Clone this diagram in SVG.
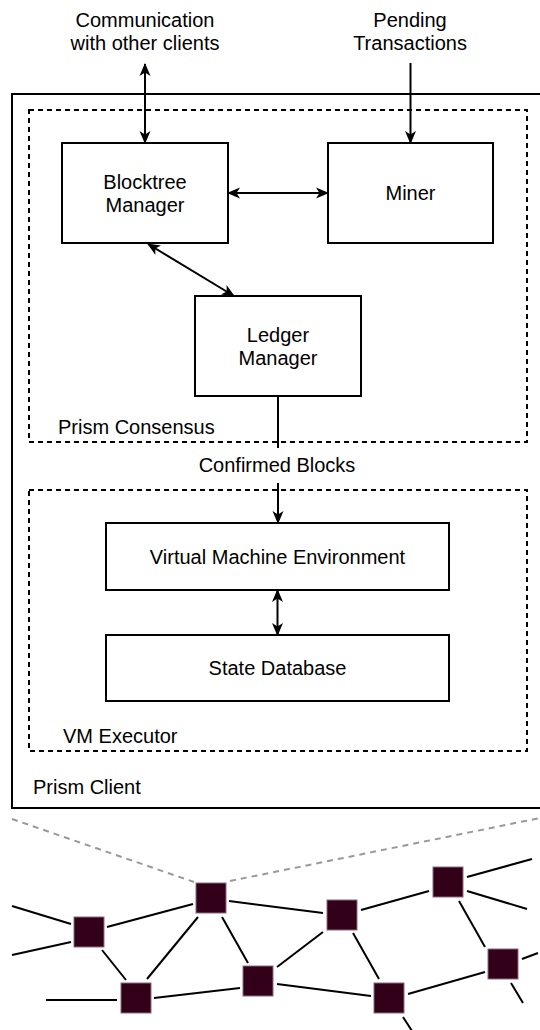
<svg xmlns="http://www.w3.org/2000/svg" width="540" height="1030" viewBox="0 0 540 1030">
<style>
text{font-family:"Liberation Sans",Arial,Helvetica,sans-serif;font-size:20px;fill:#000}
.c{text-anchor:middle}
.box{fill:#fff;stroke:#000;stroke-width:2}
.dash{fill:none;stroke:#000;stroke-width:2;stroke-dasharray:5 4}
.conn{fill:none;stroke:#000;stroke-width:2}
.net{fill:none;stroke:#000;stroke-width:2}
.peer{fill:#33001a;stroke:#8a6a7a;stroke-width:1}
.zoom{fill:none;stroke:#999;stroke-width:2;stroke-dasharray:6 5}
</style>
<defs>
<marker id="arr" viewBox="0 0 13 12" refX="12" refY="6" markerWidth="13" markerHeight="12" markerUnits="userSpaceOnUse" orient="auto-start-reverse">
<path d="M0,0.5 L13,6 L0,11.5 L3.5,6 Z" fill="#000"/>
</marker>
</defs>
<rect width="540" height="1030" fill="#fff"/>

<g id="prism-client">
<rect x="12" y="94" width="532" height="714" fill="none" stroke="#000" stroke-width="2"/>
<text x="33" y="794">Prism Client</text>
</g>

<g id="prism-consensus">
<rect class="dash" x="29" y="110" width="498" height="332"/>
<text x="58" y="434">Prism Consensus</text>
</g>

<g id="vm-executor">
<rect class="dash" x="29" y="490" width="498" height="261"/>
<text x="63" y="743">VM Executor</text>
</g>

<g id="communication">
<text class="c" x="145" y="27">Communication</text>
<text class="c" x="145" y="50">with other clients</text>
</g>

<g id="pending">
<text class="c" x="410" y="27">Pending</text>
<text class="c" x="410" y="50">Transactions</text>
</g>

<g id="blocktree-manager">
<rect class="box" x="62" y="143" width="166" height="100"/>
<text class="c" x="145" y="189">Blocktree</text>
<text class="c" x="145" y="212">Manager</text>
</g>

<g id="miner">
<rect class="box" x="328" y="143" width="165" height="100"/>
<text class="c" x="410.5" y="200">Miner</text>
</g>

<g id="ledger-manager">
<rect class="box" x="195" y="296" width="166" height="100"/>
<text class="c" x="278" y="342">Ledger</text>
<text class="c" x="278" y="365">Manager</text>
</g>

<g id="confirmed-blocks">
<text class="c" x="277" y="472">Confirmed Blocks</text>
</g>

<g id="vm-environment">
<rect class="box" x="106" y="523" width="343" height="67"/>
<text class="c" x="277.5" y="564">Virtual Machine Environment</text>
</g>

<g id="state-database">
<rect class="box" x="106" y="635" width="343" height="66"/>
<text class="c" x="277.5" y="675">State Database</text>
</g>

<g id="connectors">
<line class="conn" x1="145" y1="64" x2="145" y2="143" marker-start="url(#arr)" marker-end="url(#arr)"/>
<line class="conn" x1="410.5" y1="63" x2="410.5" y2="143" marker-end="url(#arr)"/>
<line class="conn" x1="228" y1="193" x2="328" y2="193" marker-start="url(#arr)" marker-end="url(#arr)"/>
<line class="conn" x1="148" y1="244" x2="234" y2="296" marker-start="url(#arr)" marker-end="url(#arr)"/>
<line class="conn" x1="278" y1="396" x2="278" y2="448"/>
<line class="conn" x1="278" y1="483" x2="278" y2="523" marker-end="url(#arr)"/>
<line class="conn" x1="277.5" y1="590" x2="277.5" y2="635" marker-start="url(#arr)" marker-end="url(#arr)"/>
</g>

<g id="zoom-lines">
<line class="zoom" x1="12" y1="819" x2="194" y2="882"/>
<line class="zoom" x1="230" y1="881" x2="540" y2="818"/>
</g>

<g id="network-links">
<line class="net" x1="12" y1="906" x2="71" y2="924"/>
<line class="net" x1="12" y1="955" x2="71" y2="942"/>
<line class="net" x1="107" y1="927" x2="193" y2="904"/>
<line class="net" x1="102" y1="950" x2="126" y2="980"/>
<line class="net" x1="46" y1="1000" x2="117" y2="1000"/>
<line class="net" x1="147" y1="979" x2="198" y2="917"/>
<line class="net" x1="154" y1="998" x2="240" y2="988"/>
<line class="net" x1="222" y1="917" x2="248" y2="963"/>
<line class="net" x1="229" y1="901" x2="323" y2="913"/>
<line class="net" x1="277" y1="967" x2="323" y2="932"/>
<line class="net" x1="277" y1="984" x2="371" y2="996"/>
<line class="net" x1="361" y1="910" x2="429" y2="891"/>
<line class="net" x1="353" y1="933" x2="379" y2="979"/>
<line class="net" x1="467" y1="877" x2="532" y2="859"/>
<line class="net" x1="467" y1="891" x2="527" y2="909"/>
<line class="net" x1="459" y1="901" x2="485" y2="947"/>
<line class="net" x1="408" y1="994" x2="485" y2="972"/>
<line class="net" x1="403" y1="1017" x2="412" y2="1031"/>
<line class="net" x1="522" y1="959" x2="538" y2="953"/>
<line class="net" x1="511" y1="983" x2="523" y2="1003"/>
</g>

<g id="peers">
<rect id="peer-1" class="peer" x="196" y="883" width="30" height="30"/>
<rect id="peer-2" class="peer" x="74" y="917" width="30" height="30"/>
<rect id="peer-3" class="peer" x="121" y="983" width="30" height="30"/>
<rect id="peer-4" class="peer" x="243" y="966" width="30" height="30"/>
<rect id="peer-5" class="peer" x="327" y="900" width="30" height="30"/>
<rect id="peer-6" class="peer" x="433" y="867" width="30" height="30"/>
<rect id="peer-7" class="peer" x="374" y="983" width="30" height="30"/>
<rect id="peer-8" class="peer" x="488" y="949" width="30" height="30"/>
</g>
</svg>
